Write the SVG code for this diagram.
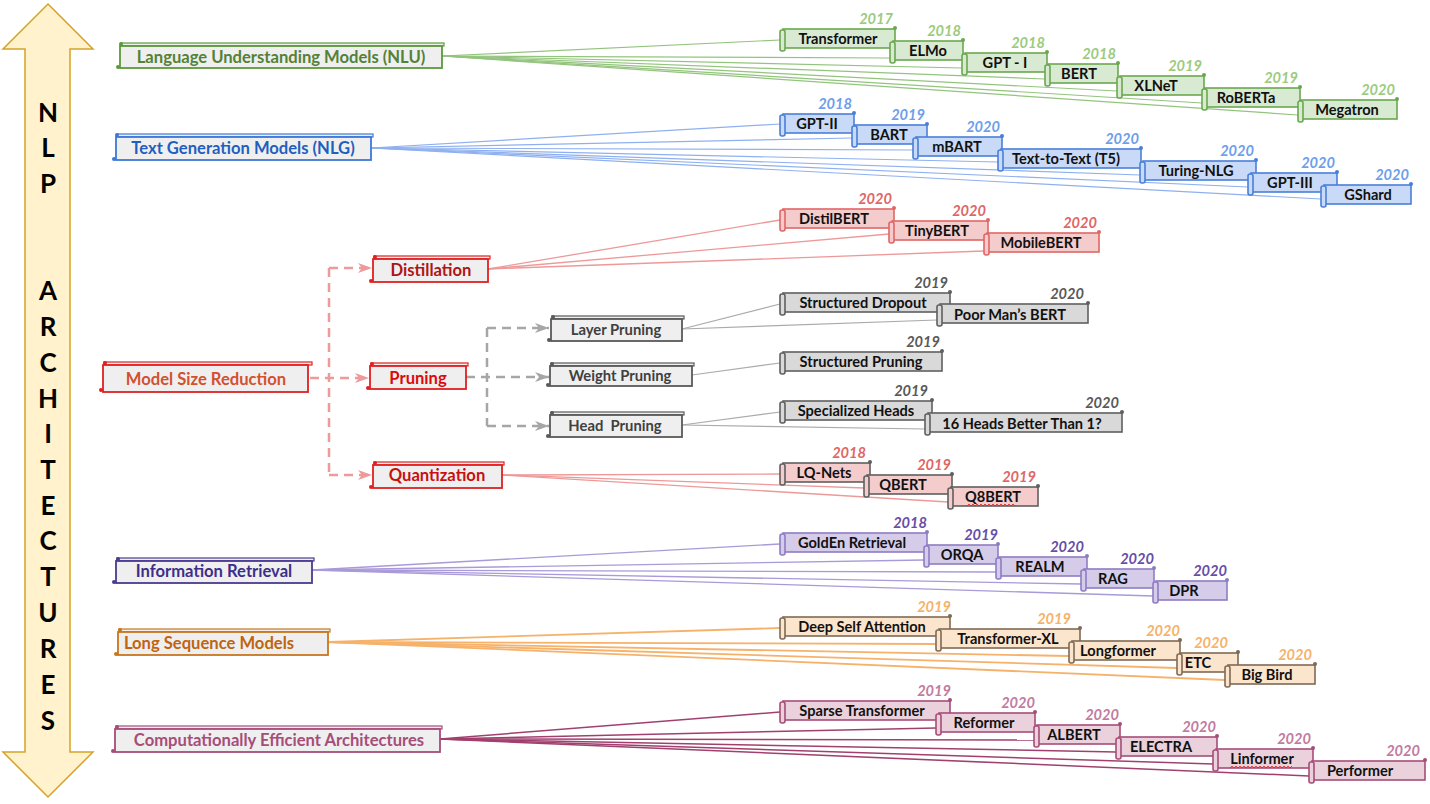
<svg xmlns="http://www.w3.org/2000/svg" width="1430" height="804" viewBox="0 0 1430 804">
<defs>
<style>
text{font-family:Lato,"Open Sans","Liberation Sans",sans-serif;font-weight:bold}
.lbl{font-size:14.6px;fill:#111;text-anchor:middle}
.yr{font-size:14.6px;font-style:italic;text-anchor:end}
.cat{font-size:16.6px;text-anchor:middle}
.sub{font-size:14.8px}
.big{font-size:26px;fill:#000;text-anchor:middle}
.ln{fill:none}
.body,.roll{stroke-width:1.6}
.cbody{fill:#EFEFEF;stroke-width:1.8}
.cbar{fill:#EFEFEF;stroke-width:1.2}
.nlu .body,.nlu .roll{fill:#D9EAD3;stroke:#6AA84F}.nlu .dot{fill:#6AA84F}.nlu .yr{fill:#9CCB7F}
.nlg .body,.nlg .roll{fill:#C9DAF8;stroke:#4A7FD8}.nlg .dot{fill:#4A7FD8}.nlg .yr{fill:#6D9EEB}
.dis .body,.dis .roll{fill:#F4CCCC;stroke:#E06666}.dis .dot{fill:#E06666}.dis .yr{fill:#E06666}
.qua .body,.qua .roll{fill:#F4CCCC;stroke:#5F5F5F}.qua .dot{fill:#5F5F5F}.qua .yr{fill:#E06666}
.gry .body,.gry .roll{fill:#D9D9D9;stroke:#5F5F5F}.gry .dot{fill:#5F5F5F}.gry .yr{fill:#595959}
.ir .body,.ir .roll{fill:#D5CCEA;stroke:#8E7CC3}.ir .dot{fill:#8E7CC3}.ir .yr{fill:#674EA7}
.lsm .body,.lsm .roll{fill:#FCE5CD;stroke:#7F6A55}.lsm .dot{fill:#7F6A55}.lsm .yr{fill:#F6B26B}
.cea .body,.cea .roll{fill:#EAD1DC;stroke:#A64D79}.cea .dot{fill:#A64D79}.cea .yr{fill:#C27BA0}
</style>
<marker id="arR" markerUnits="userSpaceOnUse" markerWidth="16" markerHeight="12" refX="14" refY="6" orient="auto"><path d="M0,1 L14,6 L0,11 L4,6 z" fill="#EE9A9A"/></marker>
<marker id="arG" markerUnits="userSpaceOnUse" markerWidth="16" markerHeight="12" refX="14" refY="6" orient="auto"><path d="M0,1 L14,6 L0,11 L4,6 z" fill="#A6A6A6"/></marker>
</defs>
<rect width="1430" height="804" fill="#FFFFFF"/>

<g id="axis">
<polygon points="48,4 93,49 70,49 70,752 93,752 48,797 3,752 25,752 25,49 3,49" fill="#FFF2CC" stroke="#D6A32A" stroke-width="1.5"/>
<text class="big" x="48" y="122">N</text>
<text class="big" x="48" y="157">L</text>
<text class="big" x="48" y="193">P</text>
<text class="big" x="48" y="300">A</text>
<text class="big" x="48" y="336">R</text>
<text class="big" x="48" y="372">C</text>
<text class="big" x="48" y="408">H</text>
<text class="big" x="48" y="443">I</text>
<text class="big" x="48" y="479">T</text>
<text class="big" x="48" y="515">E</text>
<text class="big" x="48" y="550">C</text>
<text class="big" x="48" y="586">T</text>
<text class="big" x="48" y="622">U</text>
<text class="big" x="48" y="658">R</text>
<text class="big" x="48" y="694">E</text>
<text class="big" x="48" y="730">S</text>
</g>

<g id="connectors">
<g stroke="#93C47D" stroke-width="1.2" class="ln">
<path d="M442,56 L780,40"/><path d="M442,56 L890,58"/><path d="M442,56 L962,68"/><path d="M442,56 L1045,79"/><path d="M442,56 L1117,91"/><path d="M442,56 L1202,103"/><path d="M442,56 L1298,115"/>
</g>
<g stroke="#8FB0F0" stroke-width="1.2" class="ln">
<path d="M371,148 L780,124"/><path d="M371,148 L852,138"/><path d="M371,148 L913,150"/><path d="M371,148 L998,162"/><path d="M371,148 L1140,175"/><path d="M371,148 L1248,187"/><path d="M371,148 L1321,199"/>
</g>
<g stroke="#EE9999" stroke-width="1.3" class="ln">
<path d="M488,269 L780,220"/><path d="M488,269 L889,234"/><path d="M488,269 L984,251"/>
<path d="M502,475 L780,474"/><path d="M502,475 L864,488"/><path d="M502,475 L948,502"/>
</g>
<g stroke="#AAAAAA" stroke-width="1.2" class="ln">
<path d="M682,329 L780,304"/><path d="M682,329 L937,320"/>
<path d="M692,375 L780,363"/>
<path d="M682,425 L780,412"/><path d="M682,425 L925,429"/>
</g>
<g stroke="#A99AD9" stroke-width="1.3" class="ln">
<path d="M312,570 L780,544"/><path d="M312,570 L924,560"/><path d="M312,570 L996,572"/><path d="M312,570 L1081,584"/><path d="M312,570 L1153,596"/>
</g>
<g stroke="#F6B26B" stroke-width="1.8" class="ln">
<path d="M328,642 L780,628"/><path d="M328,642 L936,644"/><path d="M328,642 L1069,656"/><path d="M328,642 L1177,668"/><path d="M328,642 L1225,680"/>
</g>
<g stroke="#A0406E" stroke-width="1.5" class="ln">
<path d="M440,739 L780,712"/><path d="M440,739 L936,728"/><path d="M440,739 L1034,740"/><path d="M440,739 L1116,752"/><path d="M440,739 L1213,764"/><path d="M440,739 L1309,776"/>
</g>
<g stroke="#EE9A9A" stroke-width="2.5" stroke-dasharray="9,6" class="ln">
<path d="M310,378 L369,378" marker-end="url(#arR)"/>
<path d="M329,268 L329,475"/>
<path d="M329,268 L372,268" marker-end="url(#arR)"/>
<path d="M329,475 L372,475" marker-end="url(#arR)"/>
</g>
<g stroke="#A6A6A6" stroke-width="2.5" stroke-dasharray="9,6" class="ln">
<path d="M466,377 L549,377" marker-end="url(#arG)"/>
<path d="M487,328 L487,426"/>
<path d="M487,328 L549,328" marker-end="url(#arG)"/>
<path d="M487,426 L549,426" marker-end="url(#arG)"/>
</g>
</g>

<g id="cat-nlu" stroke="#5B9A3A" fill="#5B9A3A">
<rect class="cbar" x="121" y="43" width="323" height="3"/><rect class="cbody" x="120" y="46" width="322" height="22"/>
<circle cx="121" cy="44" r="2" stroke="none"/><circle cx="118" cy="67" r="2" stroke="none"/>
<text class="cat" x="281" y="63" fill="#538135" stroke="none">Language Understanding Models (NLU)</text>
</g>
<g id="cat-nlg" stroke="#3C78D8" fill="#3C78D8">
<rect class="cbar" x="117" y="134" width="256" height="3"/><rect class="cbody" x="116" y="137" width="255" height="23"/>
<circle cx="117" cy="135" r="2" stroke="none"/><circle cx="114" cy="159" r="2" stroke="none"/>
<text class="cat" x="243" y="154" fill="#1F5FBF" stroke="none">Text Generation Models (NLG)</text>
</g>
<g id="cat-msr" stroke="#E02020" fill="#E02020">
<rect class="cbar" x="104" y="362" width="208" height="3"/><rect class="cbody" x="103" y="365" width="205" height="27"/>
<circle cx="105" cy="363" r="2" stroke="none"/><circle cx="101" cy="390" r="2" stroke="none"/>
<text class="cat" x="206" y="385" fill="#D4502E" stroke="none">Model Size Reduction</text>
</g>
<g id="cat-dis" stroke="#E02020" fill="#E02020">
<rect class="cbar" x="374" y="256" width="116" height="3"/><rect class="cbody" x="373" y="259" width="115" height="23"/>
<circle cx="375" cy="257" r="2" stroke="none"/><circle cx="371" cy="281" r="2" stroke="none"/>
<text class="cat" x="431" y="276" fill="#B01515" stroke="none">Distillation</text>
</g>
<g id="cat-pru" stroke="#E02020" fill="#E02020">
<rect class="cbar" x="371" y="363" width="97" height="3"/><rect class="cbody" x="370" y="366" width="96" height="23"/>
<circle cx="372" cy="364" r="2" stroke="none"/><circle cx="368" cy="388" r="2" stroke="none"/>
<text class="cat" x="418" y="384" fill="#DD0A0A" stroke="none">Pruning</text>
</g>
<g id="cat-qua" stroke="#E02020" fill="#E02020">
<rect class="cbar" x="374" y="462" width="130" height="3"/><rect class="cbody" x="373" y="465" width="129" height="23"/>
<circle cx="375" cy="463" r="2" stroke="none"/><circle cx="371" cy="487" r="2" stroke="none"/>
<text class="cat" x="437" y="481" fill="#C81010" stroke="none">Quantization</text>
</g>
<g id="cat-layer" stroke="#595959" fill="#595959">
<rect class="cbar" x="552" y="316" width="132" height="3"/><rect class="cbody" x="551" y="319" width="131" height="22"/>
<circle cx="553" cy="317" r="2" stroke="none"/><circle cx="549" cy="340" r="2" stroke="none"/>
<text class="cat sub" x="616" y="335" fill="#404040" stroke="none">Layer Pruning</text>
</g>
<g id="cat-weight" stroke="#595959" fill="#595959">
<rect class="cbar" x="551" y="363" width="143" height="3"/><rect class="cbody" x="550" y="366" width="142" height="20"/>
<circle cx="552" cy="364" r="2" stroke="none"/><circle cx="548" cy="385" r="2" stroke="none"/>
<text class="cat sub" x="620" y="381" fill="#404040" stroke="none">Weight Pruning</text>
</g>
<g id="cat-head" stroke="#595959" fill="#595959">
<rect class="cbar" x="551" y="412" width="133" height="3"/><rect class="cbody" x="550" y="415" width="132" height="22"/>
<circle cx="552" cy="413" r="2" stroke="none"/><circle cx="548" cy="436" r="2" stroke="none"/>
<text class="cat sub" x="615" y="431" fill="#404040" stroke="none" style="white-space:pre" xml:space="preserve">Head  Pruning</text>
</g>
<g id="cat-ir" stroke="#4B3A90" fill="#4B3A90">
<rect class="cbar" x="117" y="558" width="197" height="3"/><rect class="cbody" x="116" y="561" width="196" height="22"/>
<circle cx="118" cy="559" r="2" stroke="none"/><circle cx="114" cy="582" r="2" stroke="none"/>
<text class="cat" x="214" y="577" fill="#3D2E8A" stroke="none">Information Retrieval</text>
</g>
<g id="cat-lsm" stroke="#C8761D" fill="#C8761D">
<rect class="cbar" x="119" y="629" width="211" height="3"/><rect class="cbody" x="118" y="632" width="210" height="23"/>
<circle cx="120" cy="630" r="2" stroke="none"/><circle cx="116" cy="654" r="2" stroke="none"/>
<text class="cat" x="209" y="649" fill="#C0640F" stroke="none">Long Sequence Models</text>
</g>
<g id="cat-cea" stroke="#A64D79" fill="#A64D79">
<rect class="cbar" x="116" y="726" width="326" height="3"/><rect class="cbody" x="115" y="729" width="325" height="23"/>
<circle cx="117" cy="727" r="2" stroke="none"/><circle cx="113" cy="751" r="2" stroke="none"/>
<text class="cat" x="279" y="746" fill="#A64D79" stroke="none">Computationally Efficient Architectures</text>
</g>

<!-- NLU leaves -->
<g id="n-transformer" class="nlu"><rect class="body" x="783" y="29" width="112" height="19"/><rect class="roll" x="780" y="30" width="5" height="21" rx="2"/><circle class="dot" cx="895" cy="28" r="2"/><text class="lbl" x="838" y="44">Transformer</text><text class="yr" x="893" y="24">2017</text></g>
<g id="n-elmo" class="nlu"><rect class="body" x="893" y="41" width="70" height="19"/><rect class="roll" x="890" y="42" width="5" height="21" rx="2"/><circle class="dot" cx="963" cy="40" r="2"/><text class="lbl" x="928" y="56">ELMo</text><text class="yr" x="961" y="36">2018</text></g>
<g id="n-gpt1" class="nlu"><rect class="body" x="965" y="53" width="82" height="19"/><rect class="roll" x="962" y="54" width="5" height="21" rx="2"/><circle class="dot" cx="1047" cy="52" r="2"/><text class="lbl" x="1005" y="68">GPT - I</text><text class="yr" x="1045" y="48">2018</text></g>
<g id="n-bert" class="nlu"><rect class="body" x="1048" y="64" width="70" height="19"/><rect class="roll" x="1045" y="65" width="5" height="21" rx="2"/><circle class="dot" cx="1118" cy="63" r="2"/><text class="lbl" x="1079" y="79">BERT</text><text class="yr" x="1116" y="59">2018</text></g>
<g id="n-xlnet" class="nlu"><rect class="body" x="1120" y="76" width="84" height="19"/><rect class="roll" x="1117" y="77" width="5" height="21" rx="2"/><circle class="dot" cx="1204" cy="75" r="2"/><text class="lbl" x="1156" y="91">XLNeT</text><text class="yr" x="1202" y="71">2019</text></g>
<g id="n-roberta" class="nlu"><rect class="body" x="1205" y="88" width="95" height="19"/><rect class="roll" x="1202" y="89" width="5" height="21" rx="2"/><circle class="dot" cx="1300" cy="87" r="2"/><text class="lbl" x="1246" y="103">RoBERTa</text><text class="yr" x="1298" y="83">2019</text></g>
<g id="n-megatron" class="nlu"><rect class="body" x="1301" y="100" width="96" height="19"/><rect class="roll" x="1298" y="101" width="5" height="21" rx="2"/><circle class="dot" cx="1397" cy="99" r="2"/><text class="lbl" x="1347" y="115">Megatron</text><text class="yr" x="1395" y="95">2020</text></g>

<!-- NLG leaves -->
<g id="n-gpt2" class="nlg"><rect class="body" x="783" y="114" width="71" height="19"/><rect class="roll" x="780" y="115" width="5" height="21" rx="2"/><circle class="dot" cx="854" cy="113" r="2"/><text class="lbl" x="817" y="129">GPT-II</text><text class="yr" x="852" y="109">2018</text></g>
<g id="n-bart" class="nlg"><rect class="body" x="855" y="125" width="72" height="19"/><rect class="roll" x="852" y="126" width="5" height="21" rx="2"/><circle class="dot" cx="927" cy="124" r="2"/><text class="lbl" x="889" y="140">BART</text><text class="yr" x="925" y="120">2019</text></g>
<g id="n-mbart" class="nlg"><rect class="body" x="916" y="137" width="86" height="19"/><rect class="roll" x="913" y="138" width="5" height="21" rx="2"/><circle class="dot" cx="1002" cy="136" r="2"/><text class="lbl" x="957" y="152">mBART</text><text class="yr" x="1000" y="132">2020</text></g>
<g id="n-t5" class="nlg"><rect class="body" x="1001" y="149" width="140" height="19"/><rect class="roll" x="998" y="150" width="5" height="21" rx="2"/><circle class="dot" cx="1141" cy="148" r="2"/><text class="lbl" x="1066" y="164">Text-to-Text (T5)</text><text class="yr" x="1139" y="144">2020</text></g>
<g id="n-turing" class="nlg"><rect class="body" x="1143" y="161" width="113" height="19"/><rect class="roll" x="1140" y="162" width="5" height="21" rx="2"/><circle class="dot" cx="1256" cy="160" r="2"/><text class="lbl" x="1196" y="176">Turing-NLG</text><text class="yr" x="1254" y="156">2020</text></g>
<g id="n-gpt3" class="nlg"><rect class="body" x="1251" y="173" width="86" height="19"/><rect class="roll" x="1248" y="174" width="5" height="21" rx="2"/><circle class="dot" cx="1337" cy="172" r="2"/><text class="lbl" x="1290" y="188">GPT-III</text><text class="yr" x="1335" y="168">2020</text></g>
<g id="n-gshard" class="nlg"><rect class="body" x="1324" y="185" width="87" height="19"/><rect class="roll" x="1321" y="186" width="5" height="21" rx="2"/><circle class="dot" cx="1411" cy="184" r="2"/><text class="lbl" x="1368" y="200">GShard</text><text class="yr" x="1409" y="180">2020</text></g>

<!-- Distillation leaves -->
<g id="n-distilbert" class="dis"><rect class="body" x="783" y="209" width="111" height="19"/><rect class="roll" x="780" y="210" width="5" height="21" rx="2"/><circle class="dot" cx="894" cy="208" r="2"/><text class="lbl" x="834" y="224">DistilBERT</text><text class="yr" x="892" y="204">2020</text></g>
<g id="n-tinybert" class="dis"><rect class="body" x="892" y="221" width="96" height="19"/><rect class="roll" x="889" y="222" width="5" height="21" rx="2"/><circle class="dot" cx="988" cy="220" r="2"/><text class="lbl" x="937" y="236">TinyBERT</text><text class="yr" x="986" y="216">2020</text></g>
<g id="n-mobilebert" class="dis"><rect class="body" x="987" y="233" width="112" height="19"/><rect class="roll" x="984" y="234" width="5" height="21" rx="2"/><circle class="dot" cx="1099" cy="232" r="2"/><text class="lbl" x="1041" y="248">MobileBERT</text><text class="yr" x="1097" y="228">2020</text></g>

<!-- Pruning leaves -->
<g id="n-sdrop" class="gry"><rect class="body" x="783" y="293" width="167" height="19"/><rect class="roll" x="780" y="294" width="5" height="21" rx="2"/><circle class="dot" cx="950" cy="292" r="2"/><text class="lbl" x="863" y="308">Structured Dropout</text><text class="yr" x="948" y="288">2019</text></g>
<g id="n-poorman" class="gry"><rect class="body" x="940" y="304" width="148" height="19"/><rect class="roll" x="937" y="305" width="5" height="21" rx="2"/><circle class="dot" cx="1088" cy="303" r="2"/><text class="lbl" x="1010" y="320">Poor Man’s BERT</text><text class="yr" x="1084" y="299">2020</text></g>
<g id="n-spruning" class="gry"><rect class="body" x="783" y="352" width="159" height="19"/><rect class="roll" x="780" y="353" width="5" height="21" rx="2"/><circle class="dot" cx="942" cy="351" r="2"/><text class="lbl" x="861" y="367">Structured Pruning</text><text class="yr" x="940" y="347">2019</text></g>
<g id="n-sheads" class="gry"><rect class="body" x="783" y="401" width="149" height="19"/><rect class="roll" x="780" y="402" width="5" height="21" rx="2"/><circle class="dot" cx="932" cy="400" r="2"/><text class="lbl" x="856" y="416">Specialized Heads</text><text class="yr" x="928" y="396">2019</text></g>
<g id="n-16heads" class="gry"><rect class="body" x="928" y="413" width="194" height="19"/><rect class="roll" x="925" y="414" width="5" height="21" rx="2"/><circle class="dot" cx="1122" cy="412" r="2"/><text class="lbl" x="1022" y="429">16 Heads Better Than 1?</text><text class="yr" x="1119" y="408">2020</text></g>

<!-- Quantization leaves -->
<g id="n-lqnets" class="qua"><rect class="body" x="783" y="463" width="87" height="19"/><rect class="roll" x="780" y="464" width="5" height="21" rx="2"/><circle class="dot" cx="870" cy="462" r="2"/><text class="lbl" x="824" y="478">LQ-Nets</text><text class="yr" x="866" y="458">2018</text></g>
<g id="n-qbert" class="qua"><rect class="body" x="867" y="475" width="85" height="19"/><rect class="roll" x="864" y="476" width="5" height="21" rx="2"/><circle class="dot" cx="952" cy="474" r="2"/><text class="lbl" x="903" y="490">QBERT</text><text class="yr" x="951" y="470">2019</text></g>
<g id="n-q8bert" class="qua"><rect class="body" x="951" y="487" width="87" height="19"/><rect class="roll" x="948" y="488" width="5" height="21" rx="2"/><circle class="dot" cx="1038" cy="486" r="2"/><text class="lbl" x="993" y="502">Q8BERT</text><text class="yr" x="1036" y="482">2019</text><path d="M967,506 l2,-2 l2,2 l2,-2 l2,2 l2,-2 l2,2 l2,-2 l2,2 l2,-2 l2,2 l2,-2 l2,2 l2,-2 l2,2 l2,-2 l2,2 l2,-2 l2,2 l2,-2 l2,2 l2,-2 l2,2 l2,-2 l2,2" fill="none" stroke="#E02020" stroke-width="0.8"/></g>

<!-- IR leaves -->
<g id="n-golden" class="ir"><rect class="body" x="783" y="533" width="144" height="19"/><rect class="roll" x="780" y="534" width="5" height="21" rx="2"/><circle class="dot" cx="927" cy="532" r="2"/><text class="lbl" x="852" y="548">GoldEn Retrieval</text><text class="yr" x="927" y="528">2018</text></g>
<g id="n-orqa" class="ir"><rect class="body" x="927" y="545" width="71" height="19"/><rect class="roll" x="924" y="546" width="5" height="21" rx="2"/><circle class="dot" cx="998" cy="544" r="2"/><text class="lbl" x="962" y="560">ORQA</text><text class="yr" x="998" y="540">2019</text></g>
<g id="n-realm" class="ir"><rect class="body" x="999" y="557" width="88" height="19"/><rect class="roll" x="996" y="558" width="5" height="21" rx="2"/><circle class="dot" cx="1087" cy="556" r="2"/><text class="lbl" x="1040" y="572">REALM</text><text class="yr" x="1084" y="552">2020</text></g>
<g id="n-rag" class="ir"><rect class="body" x="1084" y="569" width="70" height="19"/><rect class="roll" x="1081" y="570" width="5" height="21" rx="2"/><circle class="dot" cx="1154" cy="568" r="2"/><text class="lbl" x="1113" y="584">RAG</text><text class="yr" x="1154" y="564">2020</text></g>
<g id="n-dpr" class="ir"><rect class="body" x="1156" y="581" width="71" height="19"/><rect class="roll" x="1153" y="582" width="5" height="21" rx="2"/><circle class="dot" cx="1227" cy="580" r="2"/><text class="lbl" x="1184" y="596">DPR</text><text class="yr" x="1227" y="576">2020</text></g>

<!-- LSM leaves -->
<g id="n-dsa" class="lsm"><rect class="body" x="783" y="617" width="167" height="19"/><rect class="roll" x="780" y="618" width="5" height="21" rx="2"/><circle class="dot" cx="950" cy="616" r="2"/><text class="lbl" x="862" y="632">Deep Self Attention</text><text class="yr" x="951" y="612">2019</text></g>
<g id="n-txl" class="lsm"><rect class="body" x="939" y="629" width="141" height="19"/><rect class="roll" x="936" y="630" width="5" height="21" rx="2"/><circle class="dot" cx="1080" cy="628" r="2"/><text class="lbl" x="1008" y="644">Transformer-XL</text><text class="yr" x="1071" y="624">2019</text></g>
<g id="n-longformer" class="lsm"><rect class="body" x="1072" y="641" width="108" height="19"/><rect class="roll" x="1069" y="642" width="5" height="21" rx="2"/><circle class="dot" cx="1180" cy="640" r="2"/><text class="lbl" x="1118" y="656">Longformer</text><text class="yr" x="1180" y="636">2020</text></g>
<g id="n-etc" class="lsm"><rect class="body" x="1180" y="653" width="58" height="19"/><rect class="roll" x="1177" y="654" width="5" height="21" rx="2"/><circle class="dot" cx="1238" cy="652" r="2"/><text class="lbl" x="1198" y="668">ETC</text><text class="yr" x="1228" y="648">2020</text></g>
<g id="n-bigbird" class="lsm"><rect class="body" x="1228" y="665" width="87" height="19"/><rect class="roll" x="1225" y="666" width="5" height="21" rx="2"/><circle class="dot" cx="1315" cy="664" r="2"/><text class="lbl" x="1267" y="680">Big Bird</text><text class="yr" x="1312" y="660">2020</text></g>

<!-- CEA leaves -->
<g id="n-sparse" class="cea"><rect class="body" x="783" y="701" width="167" height="19"/><rect class="roll" x="780" y="702" width="5" height="21" rx="2"/><circle class="dot" cx="950" cy="700" r="2"/><text class="lbl" x="862" y="716">Sparse Transformer</text><text class="yr" x="951" y="696">2019</text></g>
<g id="n-reformer" class="cea"><rect class="body" x="939" y="713" width="96" height="19"/><rect class="roll" x="936" y="714" width="5" height="21" rx="2"/><circle class="dot" cx="1035" cy="712" r="2"/><text class="lbl" x="984" y="728">Reformer</text><text class="yr" x="1035" y="708">2020</text></g>
<g id="n-albert" class="cea"><rect class="body" x="1037" y="725" width="83" height="19"/><rect class="roll" x="1034" y="726" width="5" height="21" rx="2"/><circle class="dot" cx="1120" cy="724" r="2"/><text class="lbl" x="1074" y="740">ALBERT</text><text class="yr" x="1119" y="720">2020</text></g>
<g id="n-electra" class="cea"><rect class="body" x="1119" y="737" width="98" height="19"/><rect class="roll" x="1116" y="738" width="5" height="21" rx="2"/><circle class="dot" cx="1217" cy="736" r="2"/><text class="lbl" x="1161" y="752">ELECTRA</text><text class="yr" x="1216" y="732">2020</text></g>
<g id="n-linformer" class="cea"><rect class="body" x="1216" y="749" width="97" height="19"/><rect class="roll" x="1213" y="750" width="5" height="21" rx="2"/><circle class="dot" cx="1313" cy="748" r="2"/><text class="lbl" x="1262" y="764">Linformer</text><text class="yr" x="1311" y="744">2020</text><path d="M1230,768 l2,-2 l2,2 l2,-2 l2,2 l2,-2 l2,2 l2,-2 l2,2 l2,-2 l2,2 l2,-2 l2,2 l2,-2 l2,2 l2,-2 l2,2 l2,-2 l2,2 l2,-2 l2,2 l2,-2 l2,2 l2,-2 l2,2 l2,-2 l2,2 l2,-2 l2,2 l2,-2 l2,2 l2,-2" fill="none" stroke="#E02020" stroke-width="0.8"/></g>
<g id="n-performer" class="cea"><rect class="body" x="1312" y="761" width="113" height="19"/><rect class="roll" x="1309" y="762" width="5" height="21" rx="2"/><circle class="dot" cx="1425" cy="760" r="2"/><text class="lbl" x="1360" y="776">Performer</text><text class="yr" x="1420" y="756">2020</text></g>
</svg>
